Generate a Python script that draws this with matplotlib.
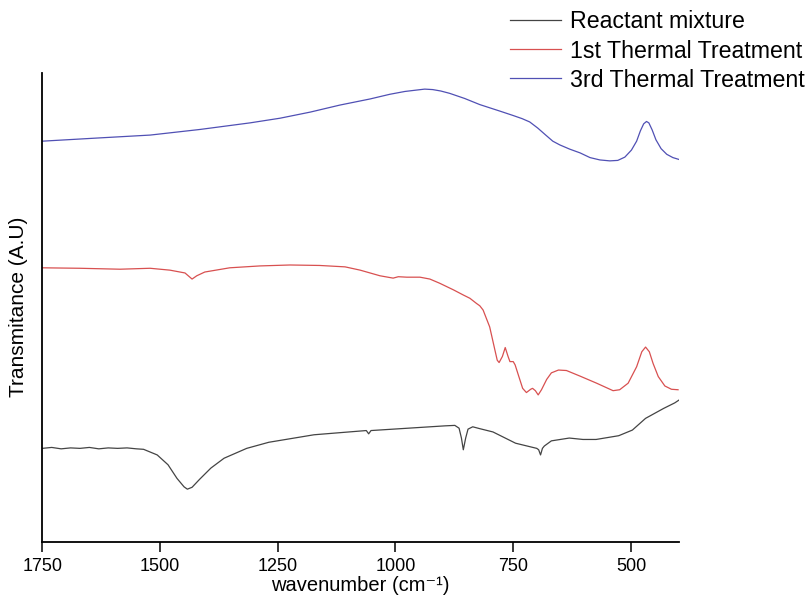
import matplotlib
matplotlib.use("Agg")
import matplotlib.pyplot as plt

plt.rcParams['font.family'] = ['Liberation Sans', 'DejaVu Sans']

# Wavenumber (cm-1) and transmittance (arbitrary units, offset per trace)
wn_reactant = [1750, 1730, 1710, 1690, 1670, 1650, 1630, 1610, 1590, 1570, 1550, 1535,
               1506, 1483, 1464, 1449, 1442, 1432, 1416, 1392, 1364, 1316, 1269,
               1173, 1062, 1057, 1052, 895, 874, 865, 860, 856, 851, 846, 836, 821,
               793, 745, 700, 696, 692, 688, 684, 669, 631, 602, 574, 526, 497, 469,
               431, 407, 398]
t_reactant = [19.9, 20.1, 19.8, 20.0, 19.9, 20.1, 19.8, 20.0, 19.9, 20.0, 19.8, 19.7,
              18.5, 16.4, 13.5, 11.7, 11.2, 11.6, 13.3, 15.7, 17.8, 19.9, 21.2,
              22.8, 23.7, 23.0, 23.7, 24.7, 24.8, 24.2, 22.1, 19.6, 22.1, 24.0, 24.5, 24.1,
              23.4, 21.0, 19.9, 19.6, 18.5, 19.9, 20.4, 21.5, 22.1, 21.8, 21.8, 22.6, 23.8,
              26.3, 28.4, 29.6, 30.2]

wn_first = [1750, 1670, 1585, 1521, 1479, 1447, 1432, 1422, 1405, 1352, 1288,
            1224, 1161, 1107, 1075, 1054, 1033, 1005, 994, 976, 948, 927, 906,
            877, 856, 842, 828, 821, 814, 800, 789, 784, 780, 773, 767, 761, 757,
            750, 746, 739, 730, 722, 713, 709, 703, 697, 690, 679, 669, 654, 637,
            608, 573, 538, 524, 506, 488, 477, 469, 461, 453, 442, 428, 414, 400]
t_first = [58.4, 58.3, 58.1, 58.3, 57.9, 57.3, 56.0, 56.7, 57.5, 58.4, 58.8,
           59.0, 58.9, 58.6, 57.9, 57.3, 56.7, 56.2, 56.5, 56.4, 56.4, 56.0, 55.1,
           53.7, 52.6, 51.9, 50.8, 50.3, 49.4, 45.8, 40.9, 38.7, 38.2, 39.5, 41.4, 39.5, 38.4,
           38.4, 37.7, 35.5, 32.7, 31.8, 32.5, 32.7, 32.2, 31.3, 32.4, 34.6, 36.0, 36.6, 36.5,
           35.3, 33.8, 32.2, 32.4, 33.8, 37.3, 40.5, 41.5, 40.5, 38.0, 35.2, 33.2, 32.5, 32.4]

wn_third = [1750, 1628, 1521, 1415, 1309, 1245, 1181, 1118, 1054, 1012, 980, 955,
            938, 921, 904, 885, 853, 821, 778, 751, 731, 715, 698, 681, 666, 651,
            630, 608, 587, 566, 545, 528, 513, 499, 488, 480, 473, 467, 462, 455,
            447, 436, 424, 411, 398]
t_third = [85.4, 86.1, 86.7, 87.9, 89.3, 90.3, 91.6, 93.1, 94.4, 95.4, 96.0, 96.3,
           96.5, 96.4, 96.1, 95.6, 94.5, 93.2, 91.8, 90.9, 90.2, 89.5, 88.2, 86.7, 85.4, 84.6,
           83.7, 82.9, 81.9, 81.4, 81.2, 81.3, 82.0, 83.5, 85.4, 87.6, 89.1, 89.6, 89.3, 87.8,
           85.7, 83.8, 82.6, 81.9, 81.5]

labels = ["Reactant mixture", "1st Thermal Treatment", "3rd Thermal Treatment"]
colors = ["#444444", "#d85050", "#5050b4"]
x_ticks = [1750, 1500, 1250, 1000, 750, 500]

W, H = 809, 601
fig = plt.figure(figsize=(W / 100, H / 100), dpi=100)
ax = fig.add_axes([42.3 / W, 1 - 541.7 / H, (679 - 42.3) / W, (541.7 - 72.7) / H])

for wn, t, lab, c in zip([wn_reactant, wn_first, wn_third],
                         [t_reactant, t_first, t_third], labels, colors):
    ax.plot(wn, t, color=c, lw=0.9, label=lab, solid_joinstyle='round')

ax.set_xlim(1750, 398)
ax.set_ylim(0, 100)
ax.set_xticks(x_ticks)
ax.set_xticklabels([str(v) for v in x_ticks], fontsize=13)
ax.set_yticks([])
ax.tick_params(axis='x', direction='out', length=7, width=1.1, pad=5)
for side in ("top", "right"):
    ax.spines[side].set_visible(False)
for side in ("left", "bottom"):
    ax.spines[side].set_linewidth(1.3)

ax.set_xlabel("wavenumber (cm\u207b\u00b9)", fontsize=14.5)
ax.xaxis.set_label_coords(0.5, -0.073)
ax.set_ylabel("Transmitance (A.U)", fontsize=15)
ax.yaxis.set_label_coords(-0.022, 0.5)

fig.legend(loc="upper left", bbox_to_anchor=(510 / W, 1 - 10.5 / H),
           frameon=False, fontsize=16.7, handlelength=2.2, handletextpad=0.4,
           labelspacing=0.26, borderpad=0, borderaxespad=0)

fig.savefig("out.png", dpi=100)
